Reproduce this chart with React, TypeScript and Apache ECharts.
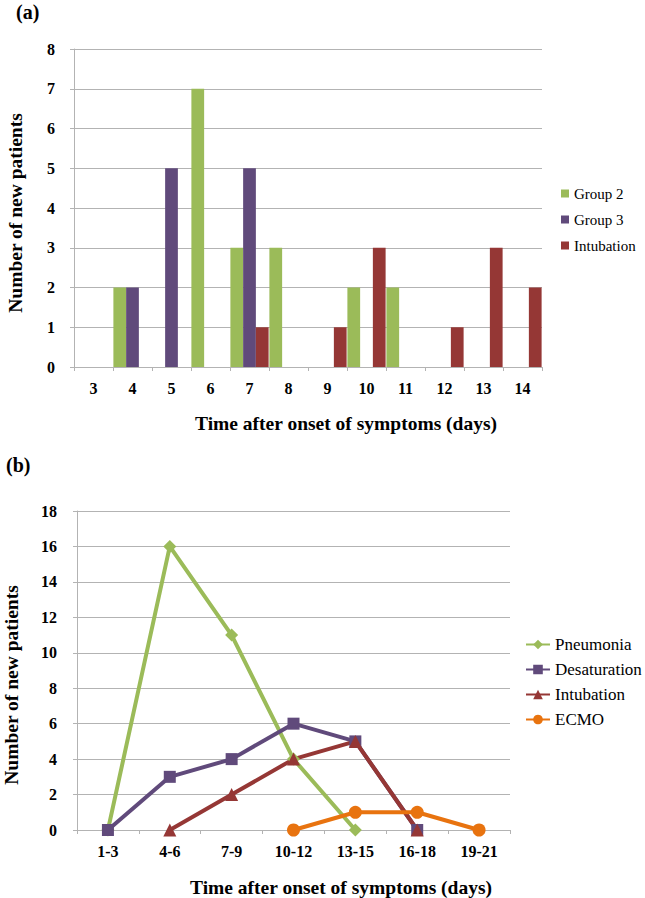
import React, { useEffect, useRef } from "react";
import * as echarts from "echarts";

// ---- Panel (a) data ----
const daysA = ["3", "4", "5", "6", "7", "8", "9", "10", "11", "12", "13", "14"];
const group2 = [null, 2, null, 7, 3, 3, null, 2, 2, null, null, null];
const group3 = [null, 2, 5, null, 5, null, null, null, null, null, null, null];
const intubationA = [null, null, null, null, 1, null, 1, 3, null, 1, 3, 2];

// ---- Panel (b) data ----
const rangesB = ["1-3", "4-6", "7-9", "10-12", "13-15", "16-18", "19-21"];
const pneumonia = [0, 16, 11, 4, 0, null, null];
const desaturation = [0, 3, 4, 6, 5, 0, null];
const intubationB = [null, 0, 2, 4, 5, 0, null];
const ecmo = [null, null, null, 0, 1, 1, 0];

const GREEN = "#9BBB59";
const PURPLE = "#604A7B";
const RED = "#953735";
const ORANGE = "#E8730F";
const GRID = "#b3b3b3";
const FONT = "Liberation Serif";

export default function App() {
  const ref = useRef<HTMLDivElement>(null);
  useEffect(() => {
    if (!ref.current) return;
    const chart = echarts.init(ref.current, null, { renderer: "svg" });
    const axisLine = { show: true, lineStyle: { color: GRID, width: 1 } };
    const axisTick = { show: true, length: 4, lineStyle: { color: GRID } };
    const tickLabel = { color: "#000", fontFamily: FONT, fontWeight: "bold", fontSize: 16 };
    const titleStyle = { fill: "#000", fontFamily: FONT, fontWeight: "bold", fontSize: 19.5 };
    chart.setOption({
      animation: false,
      textStyle: { fontFamily: FONT },
      grid: [
        { left: 74, top: 49, width: 468, height: 318, containLabel: false },
        { left: 77, top: 511, width: 433, height: 319, containLabel: false },
      ],
      xAxis: [
        {
          type: "category", gridIndex: 0, data: daysA, boundaryGap: true,
          axisLine, axisTick, axisLabel: { ...tickLabel, margin: 13 },
          splitLine: { show: false },
        },
        {
          type: "category", gridIndex: 1, data: rangesB, boundaryGap: true,
          axisLine, axisTick, axisLabel: { ...tickLabel, margin: 13 },
          splitLine: { show: false },
        },
      ],
      yAxis: [
        {
          type: "value", gridIndex: 0, min: 0, max: 8, interval: 1,
          axisLine, axisTick, axisLabel: { ...tickLabel, margin: 19 },
          splitLine: { show: true, lineStyle: { color: GRID, width: 1 } },
        },
        {
          type: "value", gridIndex: 1, min: 0, max: 18, interval: 2,
          axisLine, axisTick, axisLabel: { ...tickLabel, margin: 20 },
          splitLine: { show: true, lineStyle: { color: GRID, width: 1 } },
        },
      ],
      legend: [
        {
          data: ["Group 2", "Group 3", "Intubation"],
          orient: "vertical", left: 556, top: 181, padding: 5,
          itemWidth: 8, itemHeight: 8, itemGap: 11, icon: "rect",
          textStyle: { fontFamily: FONT, fontSize: 15, color: "#000" },
        },
        {
          data: ["Pneumonia", "Desaturation", "Intubation ", "ECMO"],
          orient: "vertical", left: 520, top: 631, padding: 5,
          itemWidth: 24, itemHeight: 12, itemGap: 8,
          formatter: (name: string) => name.trim(),
          textStyle: { fontFamily: FONT, fontSize: 17, color: "#000" },
        },
      ],
      graphic: [
        { type: "text", left: 16, top: 2, style: { ...titleStyle, text: "(a)", fontSize: 20 } },
        { type: "text", left: 6, top: 455, style: { ...titleStyle, text: "(b)", fontSize: 20 } },
        {
          type: "text", x: 346, y: 423,
          style: { ...titleStyle, text: "Time after onset of symptoms (days)", textAlign: "center", textVerticalAlign: "middle" },
        },
        {
          type: "text", x: 341, y: 887,
          style: { ...titleStyle, text: "Time after onset of symptoms (days)", textAlign: "center", textVerticalAlign: "middle" },
        },
        {
          type: "text", x: 15, y: 213, rotation: Math.PI / 2,
          style: { ...titleStyle, text: "Number of new patients", textAlign: "center", textVerticalAlign: "middle" },
        },
        {
          type: "text", x: 11, y: 685, rotation: Math.PI / 2,
          style: { ...titleStyle, text: "Number of new patients", textAlign: "center", textVerticalAlign: "middle" },
        },
      ],
      series: [
        {
          name: "Group 2", type: "bar", xAxisIndex: 0, yAxisIndex: 0, data: group2,
          itemStyle: { color: GREEN }, barGap: "0%", barCategoryGap: "2%",
        },
        {
          name: "Group 3", type: "bar", xAxisIndex: 0, yAxisIndex: 0, data: group3,
          itemStyle: { color: PURPLE }, barGap: "0%", barCategoryGap: "2%",
        },
        {
          name: "Intubation", type: "bar", xAxisIndex: 0, yAxisIndex: 0, data: intubationA,
          itemStyle: { color: RED }, barGap: "0%", barCategoryGap: "2%",
        },
        {
          name: "Pneumonia", type: "line", xAxisIndex: 1, yAxisIndex: 1, data: pneumonia,
          symbol: "diamond", symbolSize: 13, lineStyle: { color: GREEN, width: 4 },
          itemStyle: { color: GREEN }, connectNulls: false,
        },
        {
          name: "Desaturation", type: "line", xAxisIndex: 1, yAxisIndex: 1, data: desaturation,
          symbol: "rect", symbolSize: 12, lineStyle: { color: PURPLE, width: 4 },
          itemStyle: { color: PURPLE }, connectNulls: false,
        },
        {
          name: "Intubation ", type: "line", xAxisIndex: 1, yAxisIndex: 1, data: intubationB,
          symbol: "triangle", symbolSize: 13, lineStyle: { color: RED, width: 4 },
          itemStyle: { color: RED }, connectNulls: false,
        },
        {
          name: "ECMO", type: "line", xAxisIndex: 1, yAxisIndex: 1, data: ecmo,
          symbol: "circle", symbolSize: 13, lineStyle: { color: ORANGE, width: 4 },
          itemStyle: { color: ORANGE }, connectNulls: false,
        },
      ],
    });
    return () => chart.dispose();
  }, []);
  return (
    <div
      ref={ref}
      style={{ position: "absolute", left: 0, top: 0, width: 645, height: 898, background: "#fff" }}
    />
  );
}
